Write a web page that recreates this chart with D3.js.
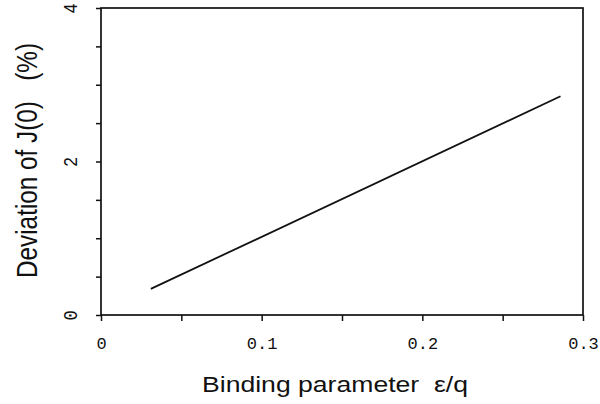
<!DOCTYPE html>
<html>
<head>
<meta charset="UTF-8">
<style>
  body { margin: 0; background: #fff; }
  .tick text { font-family: "Liberation Mono", "DejaVu Sans Mono", monospace; font-size: 17px; fill: #111; }
  .title { font-family: "Liberation Sans", Arial, sans-serif; font-size: 22px; fill: #111; white-space: pre; }
</style>
</head>
<body>
<svg width="600" height="404"></svg>
<script src="https://cdn.jsdelivr.net/npm/d3@7"></script>
<script>
// binding parameter eps/q vs deviation of J(0) in %
const xVals = [0.031, 0.286];
const yVals = [0.34, 2.85];
const xTicks = [0, 0.05, 0.1, 0.15, 0.2, 0.25, 0.3];
const xLabels = ["0", "", "0.1", "", "0.2", "", "0.3"];
const yTicks = [0, 0.5, 1, 1.5, 2, 2.5, 3, 3.5, 4];
const yLabels = ["0", "", "", "", "2", "", "", "", "4"];

let svg = d3.select("svg");
let mLeft = 101, mRight = 583, mTop = 8, mBottom = 315;
let stretch = 1.3; // the scan is wider than tall

let x = d3.scaleLinear().domain([0, 0.3]).range([mLeft, mRight]);
let y = d3.scaleLinear().domain([0, 4]).range([mBottom, mTop]);

// frame
svg.append("rect")
  .attr("x", mLeft).attr("y", mTop)
  .attr("width", mRight - mLeft).attr("height", mBottom - mTop)
  .attr("fill", "none").attr("stroke", "#111").attr("stroke-width", 1.7);

// x axis
let xa = svg.append("g")
  .attr("transform", "translate(0," + mBottom + ")")
  .call(d3.axisBottom(x).tickValues(xTicks)
    .tickFormat((d, i) => xLabels[i]).tickSize(6).tickPadding(16));
xa.select(".domain").remove();
xa.selectAll("line").attr("stroke", "#111").attr("stroke-width", 1.5);

// y axis, labels turned
let ya = svg.append("g")
  .attr("transform", "translate(" + mLeft + ",0)")
  .call(d3.axisLeft(y).tickValues(yTicks)
    .tickFormat((d, i) => yLabels[i]).tickSize(5));
ya.select(".domain").remove();
ya.selectAll("line").attr("stroke", "#111").attr("stroke-width", 1.5);
ya.selectAll("text")
  .attr("x", 0).attr("y", 0).attr("dy", null)
  .attr("text-anchor", "middle")
  .attr("transform", "translate(-29,0) scale(1.2,1) rotate(-90)")
  .attr("dominant-baseline", "central");

// data line
let line = d3.line().x(d => x(d[0])).y(d => y(d[1]));
svg.append("path")
  .datum(xVals.map((v, i) => [v, yVals[i]]))
  .attr("d", line)
  .attr("fill", "none").attr("stroke", "#111").attr("stroke-width", 1.8);

// titles
svg.append("text").attr("class", "title")
  .attr("x", 202).attr("y", 392)
  .attr("textLength", 266)
  .attr("lengthAdjust", "spacingAndGlyphs")
  .text("Binding parameter  \u03b5/q");

svg.append("text").attr("class", "title")
  .attr("transform", "translate(37,278) scale(" + stretch + ",1) rotate(-90)")
  .attr("textLength", 235)
  .attr("lengthAdjust", "spacingAndGlyphs")
  .text("Deviation of J(0)   (%)");
</script>
</body>
</html>
